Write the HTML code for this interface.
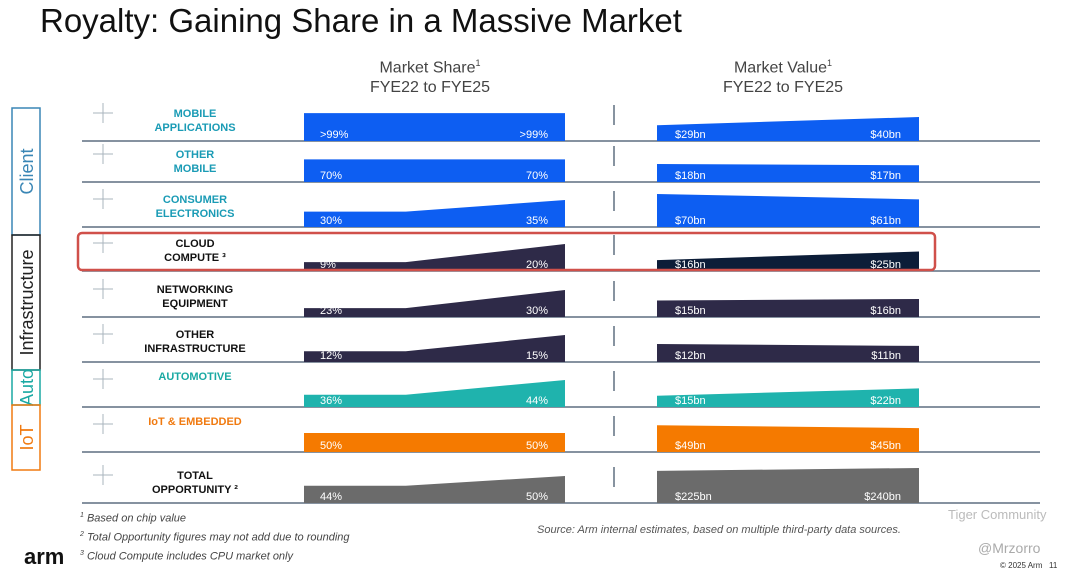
<!DOCTYPE html>
<html><head><meta charset="utf-8"><style>
body{margin:0;width:1080px;height:574px;background:#fff;font-family:"Liberation Sans",Arial,sans-serif;overflow:hidden;position:relative}
.t{position:absolute;white-space:nowrap}
</style></head><body>
<div class="t" style="left:40px;top:2px;font-size:33px;color:#111">Royalty: Gaining Share in a Massive Market</div>
<div class="t" style="left:330px;top:53px;width:200px;text-align:center;font-size:16px;color:#444;line-height:20px">Market Share<sup style="font-size:9px">1</sup><br>FYE22 to FYE25</div>
<div class="t" style="left:683px;top:53px;width:200px;text-align:center;font-size:16px;color:#444;line-height:20px">Market Value<sup style="font-size:9px">1</sup><br>FYE22 to FYE25</div>
<svg id="chart" width="1080" height="574" style="position:absolute;left:0;top:0"></svg>
<div class="t" style="left:80px;top:512px;font-size:11px;font-style:italic;color:#444"><sup style="font-size:7px">1</sup> Based on chip value</div>
<div class="t" style="left:80px;top:531px;font-size:11px;font-style:italic;color:#444"><sup style="font-size:7px">2</sup> Total Opportunity figures may not add due to rounding</div>
<div class="t" style="left:80px;top:550px;font-size:11px;font-style:italic;color:#444"><sup style="font-size:7px">3</sup> Cloud Compute includes CPU market only</div>
<div class="t" style="left:537px;top:524px;font-size:11px;font-style:italic;color:#555">Source: Arm internal estimates, based on multiple third-party data sources.</div>
<div class="t" style="left:24px;top:544px;font-size:22px;font-weight:bold;color:#111">arm</div>
<div class="t" style="left:948px;top:507px;font-size:13px;color:#bbb">Tiger Community</div>
<div class="t" style="left:978px;top:540px;font-size:14px;color:#aaa">@Mrzorro</div>
<div class="t" style="left:1000px;top:561px;font-size:8px;color:#333">© 2025 Arm &nbsp; 11</div>
<script>
const categories=["MOBILE|APPLICATIONS","OTHER|MOBILE","CONSUMER|ELECTRONICS","CLOUD|COMPUTE ³","NETWORKING|EQUIPMENT","OTHER|INFRASTRUCTURE","AUTOMOTIVE","IoT & EMBEDDED","TOTAL|OPPORTUNITY ²"];
const shareStart=[99,70,30,9,23,12,36,50,44];
const shareEnd=[99,70,35,20,30,15,44,50,50];
const shareStartLbl=[">99%","70%","30%","9%","23%","12%","36%","50%","44%"];
const shareEndLbl=[">99%","70%","35%","20%","30%","15%","44%","50%","50%"];
const valueStart=[29,18,70,16,15,12,15,49,225];
const valueEnd=[40,17,61,25,16,11,22,45,240];
const groups=[["Client",108,235,"#3a86b5"],["Infrastructure",235,370,"#222"],["Auto",370,405,"#1aa9a3"],["IoT",405,470,"#f07a10"]];
const svg=document.getElementById('chart');const NS="http://www.w3.org/2000/svg";
function el(t,a){const e=document.createElementNS(NS,t);for(const k in a)e.setAttribute(k,a[k]);svg.appendChild(e);return e;}
const baseY=[141,182,227,271,317,362,407,452,503];
const fill=["#0d5ef2","#0d5ef2","#0d5ef2","#2e2a48","#2e2a48","#2e2a48","#1fb3ad","#f57a00","#6b6b6b"];
const vfill=["#0d5ef2","#0d5ef2","#0d5ef2","#0c1d38","#2e2a48","#2e2a48","#1fb3ad","#f57a00","#6b6b6b"];
const lblCol=["#1a9bb5","#1a9bb5","#1a9bb5","#111","#111","#111","#1aa9a3","#f07a10","#111"];
// share heights: equal rows scale with value; changing rows scale by ratio
function shareH(s,e){
 if(s===e){const h=10+0.18*s;return [h,h];}
 const hi=27, r=Math.min(s,e)/Math.max(s,e);
 const lo=hi*Math.max(0.33,1-3*(1-r));
 return s<e?[lo,hi]:[hi,lo];
}
function valH(s,e){
 const mx=Math.max(s,e), hi=Math.max(18,Math.min(35,12+0.3*mx));
 const lo=hi*Math.pow(Math.min(s,e)/mx,1.3);
 return s<e?[lo,hi]:[hi,lo];
}
const sx0=304,sx1=565,vx0=657,vx1=919;
groups.forEach(g=>{
 const r=el('rect',{x:12,y:g[1],width:28,height:g[2]-g[1],fill:'none',stroke:g[3],'stroke-width':1.5});
 
 const t=el('text',{x:0,y:0,transform:`translate(33,${(g[1]+g[2])/2}) rotate(-90)`,'text-anchor':'middle','font-size':18,fill:g[3]});
 t.textContent=g[0];
});
categories.forEach((c,i)=>{
 const y=baseY[i];
 const ln=el('line',{x1:82,x2:1040,y1:y,y2:y,stroke:'#5f6f80','stroke-width':1.5});
 
 const dv=el('line',{x1:614,x2:614,y1:y-36,y2:y-16,stroke:'#5f6f80','stroke-width':1.5});
 
 const ic=el('path',{d:`M93 ${y-28}h20M103 ${y-38}v20`,stroke:'#aab4be','stroke-width':1});
 
 const parts=c.split('|');
 parts.forEach((p,k)=>{const t=el('text',{x:195,y:y-(parts.length==2?24:22)+k*14-(parts.length==1?5:0),'text-anchor':'middle','font-size':11,'font-weight':'bold',fill:lblCol[i]});t.textContent=p;
  });
 const [h0,h1]=shareH(shareStart[i],shareEnd[i]),xm=sx0+(sx1-sx0)*0.39;
 const sp=el('path',{d:`M${sx0} ${y}V${y-h0}H${xm}L${sx1} ${y-h1}V${y}Z`,fill:fill[i]});
 
 const [v0,v1]=valH(valueStart[i],valueEnd[i]);
 const vp=el('path',{d:`M${vx0} ${y}V${y-v0}L${vx1} ${y-v1}V${y}Z`,fill:vfill[i]});
 
 [[320,shareStartLbl[i],'start'],[548,shareEndLbl[i],'end'],[675,'$'+valueStart[i]+'bn','start'],[901,'$'+valueEnd[i]+'bn','end']].forEach(a=>{
  const t=el('text',{x:a[0],y:y-3,'text-anchor':a[2],'font-size':11,fill:'#fff'});t.textContent=a[1];
  });
});
const hb=el('rect',{x:78,y:233,width:857,height:37,rx:4,fill:'none',stroke:'#d0504a','stroke-width':2.5});

</script>
</body></html>
